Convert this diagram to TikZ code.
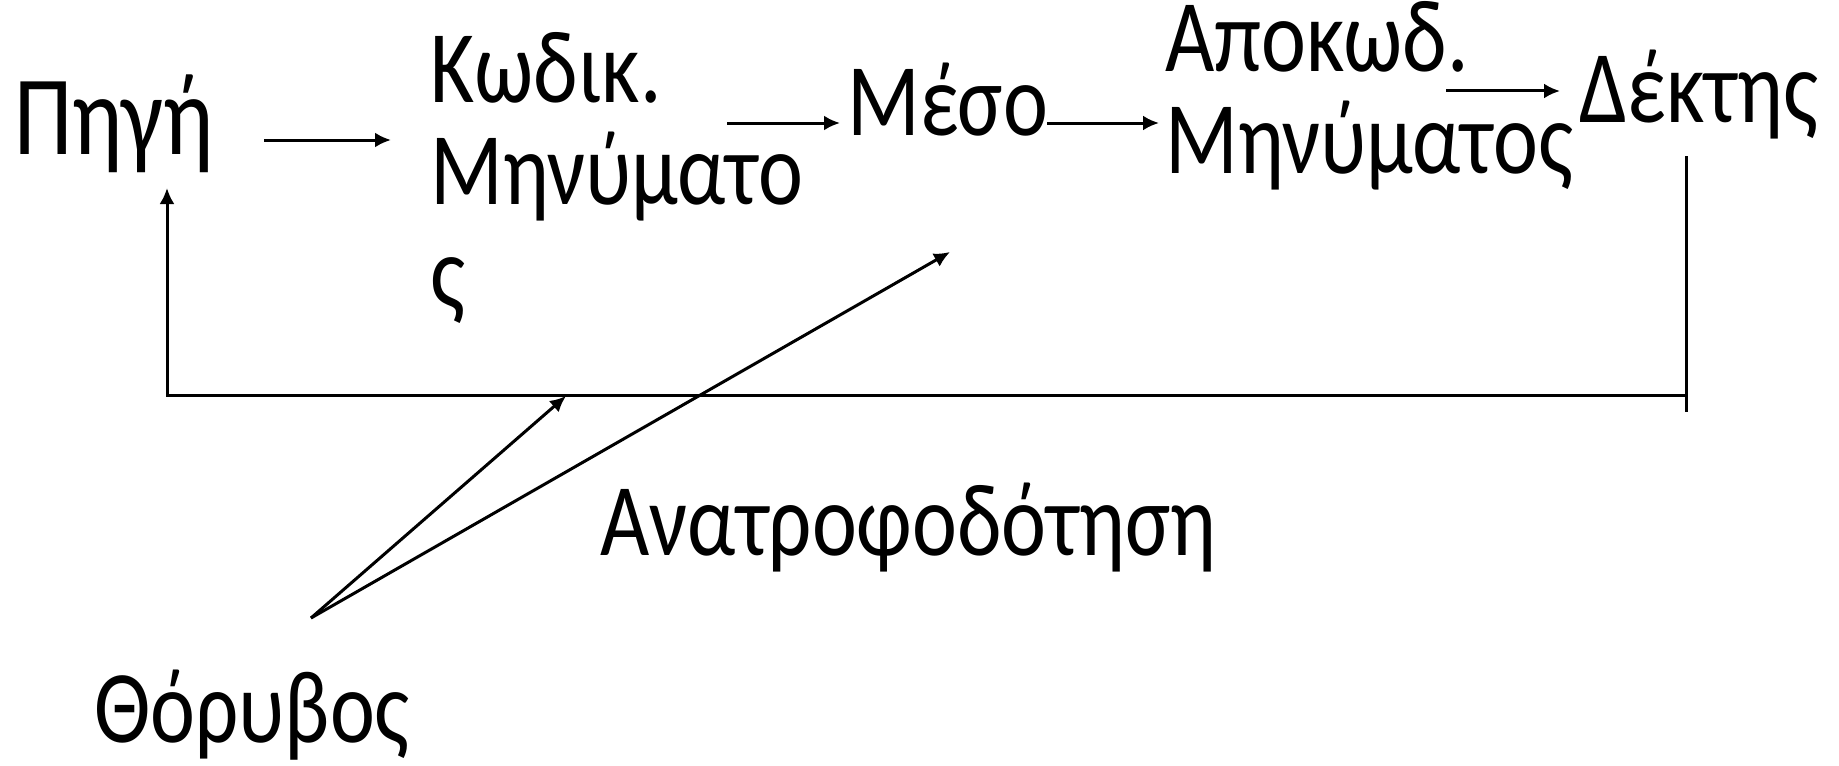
\documentclass[tikz,border=0pt]{standalone}
\usepackage{fontspec}
\setmainfont{Carlito}[FakeStretch=0.826]
\usetikzlibrary{arrows.meta}
\newcommand{\linesstack}[1]{\vtop{\baselineskip=51pt\lineskiplimit=-100pt #1}}
\begin{document}
\begin{tikzpicture}[x=0.5pt,y=-0.5pt,
  lbl/.style={anchor=base west,inner sep=0pt,font=\fontsize{51.5}{51}\selectfont},
  big/.style={lbl,font=\fontsize{56.6}{56}\selectfont},
  ln/.style={line width=1.5pt,black},
  arr/.style={ln,-{Latex[length=8pt,width=7.5pt]}}]
\useasboundingbox (0,0) rectangle (1839,765);
\node[big] (pigi) at (14,155) {Πηγή};
\node[lbl] (kodik) at (430,103) {\linesstack{\hbox{Κωδικ.}\hbox{Μηνύματο}\hbox{ς}}};
\node[lbl] (meso) at (847,135) {Μέσο};
\node[lbl] (apokod) at (1165,72) {\linesstack{\hbox{Αποκωδ.}\hbox{Μηνύματος}}};
\node[lbl] (dektis) at (1579,122) {Δέκτης};
\node[lbl] (anatr) at (600,555) {Ανατροφοδότηση};
\node[lbl] (thor) at (94,742) {Θόρυβος};
% arrow end points
\coordinate (a1s) at (264,140); \coordinate (a1e) at (391,140);
\coordinate (a2s) at (727,123); \coordinate (a2e) at (840,123);
\coordinate (a3s) at (1047,123); \coordinate (a3e) at (1159,123);
\coordinate (a4s) at (1446,91); \coordinate (a4e) at (1560,91);
\coordinate (fbtop) at (1686,156); \coordinate (fbbot) at (1686,412);
\coordinate (fbR) at (1686,395); \coordinate (fbL) at (167,395);
\coordinate (fbend) at (167,188);
\coordinate (ns) at (311,618);
\coordinate (n1) at (566,396); \coordinate (n2) at (950,252);
\draw[arr] (a1s) -- (a1e);
\draw[arr] (a2s) -- (a2e);
\draw[arr] (a3s) -- (a3e);
\draw[arr] (a4s) -- (a4e);
\draw[ln] (fbtop) -- (fbbot);
\draw[arr] (fbR) -- (fbL) -- (fbend);
\draw[arr] (ns) -- (n1);
\draw[arr] (ns) -- (n2);
\end{tikzpicture}
\end{document}
